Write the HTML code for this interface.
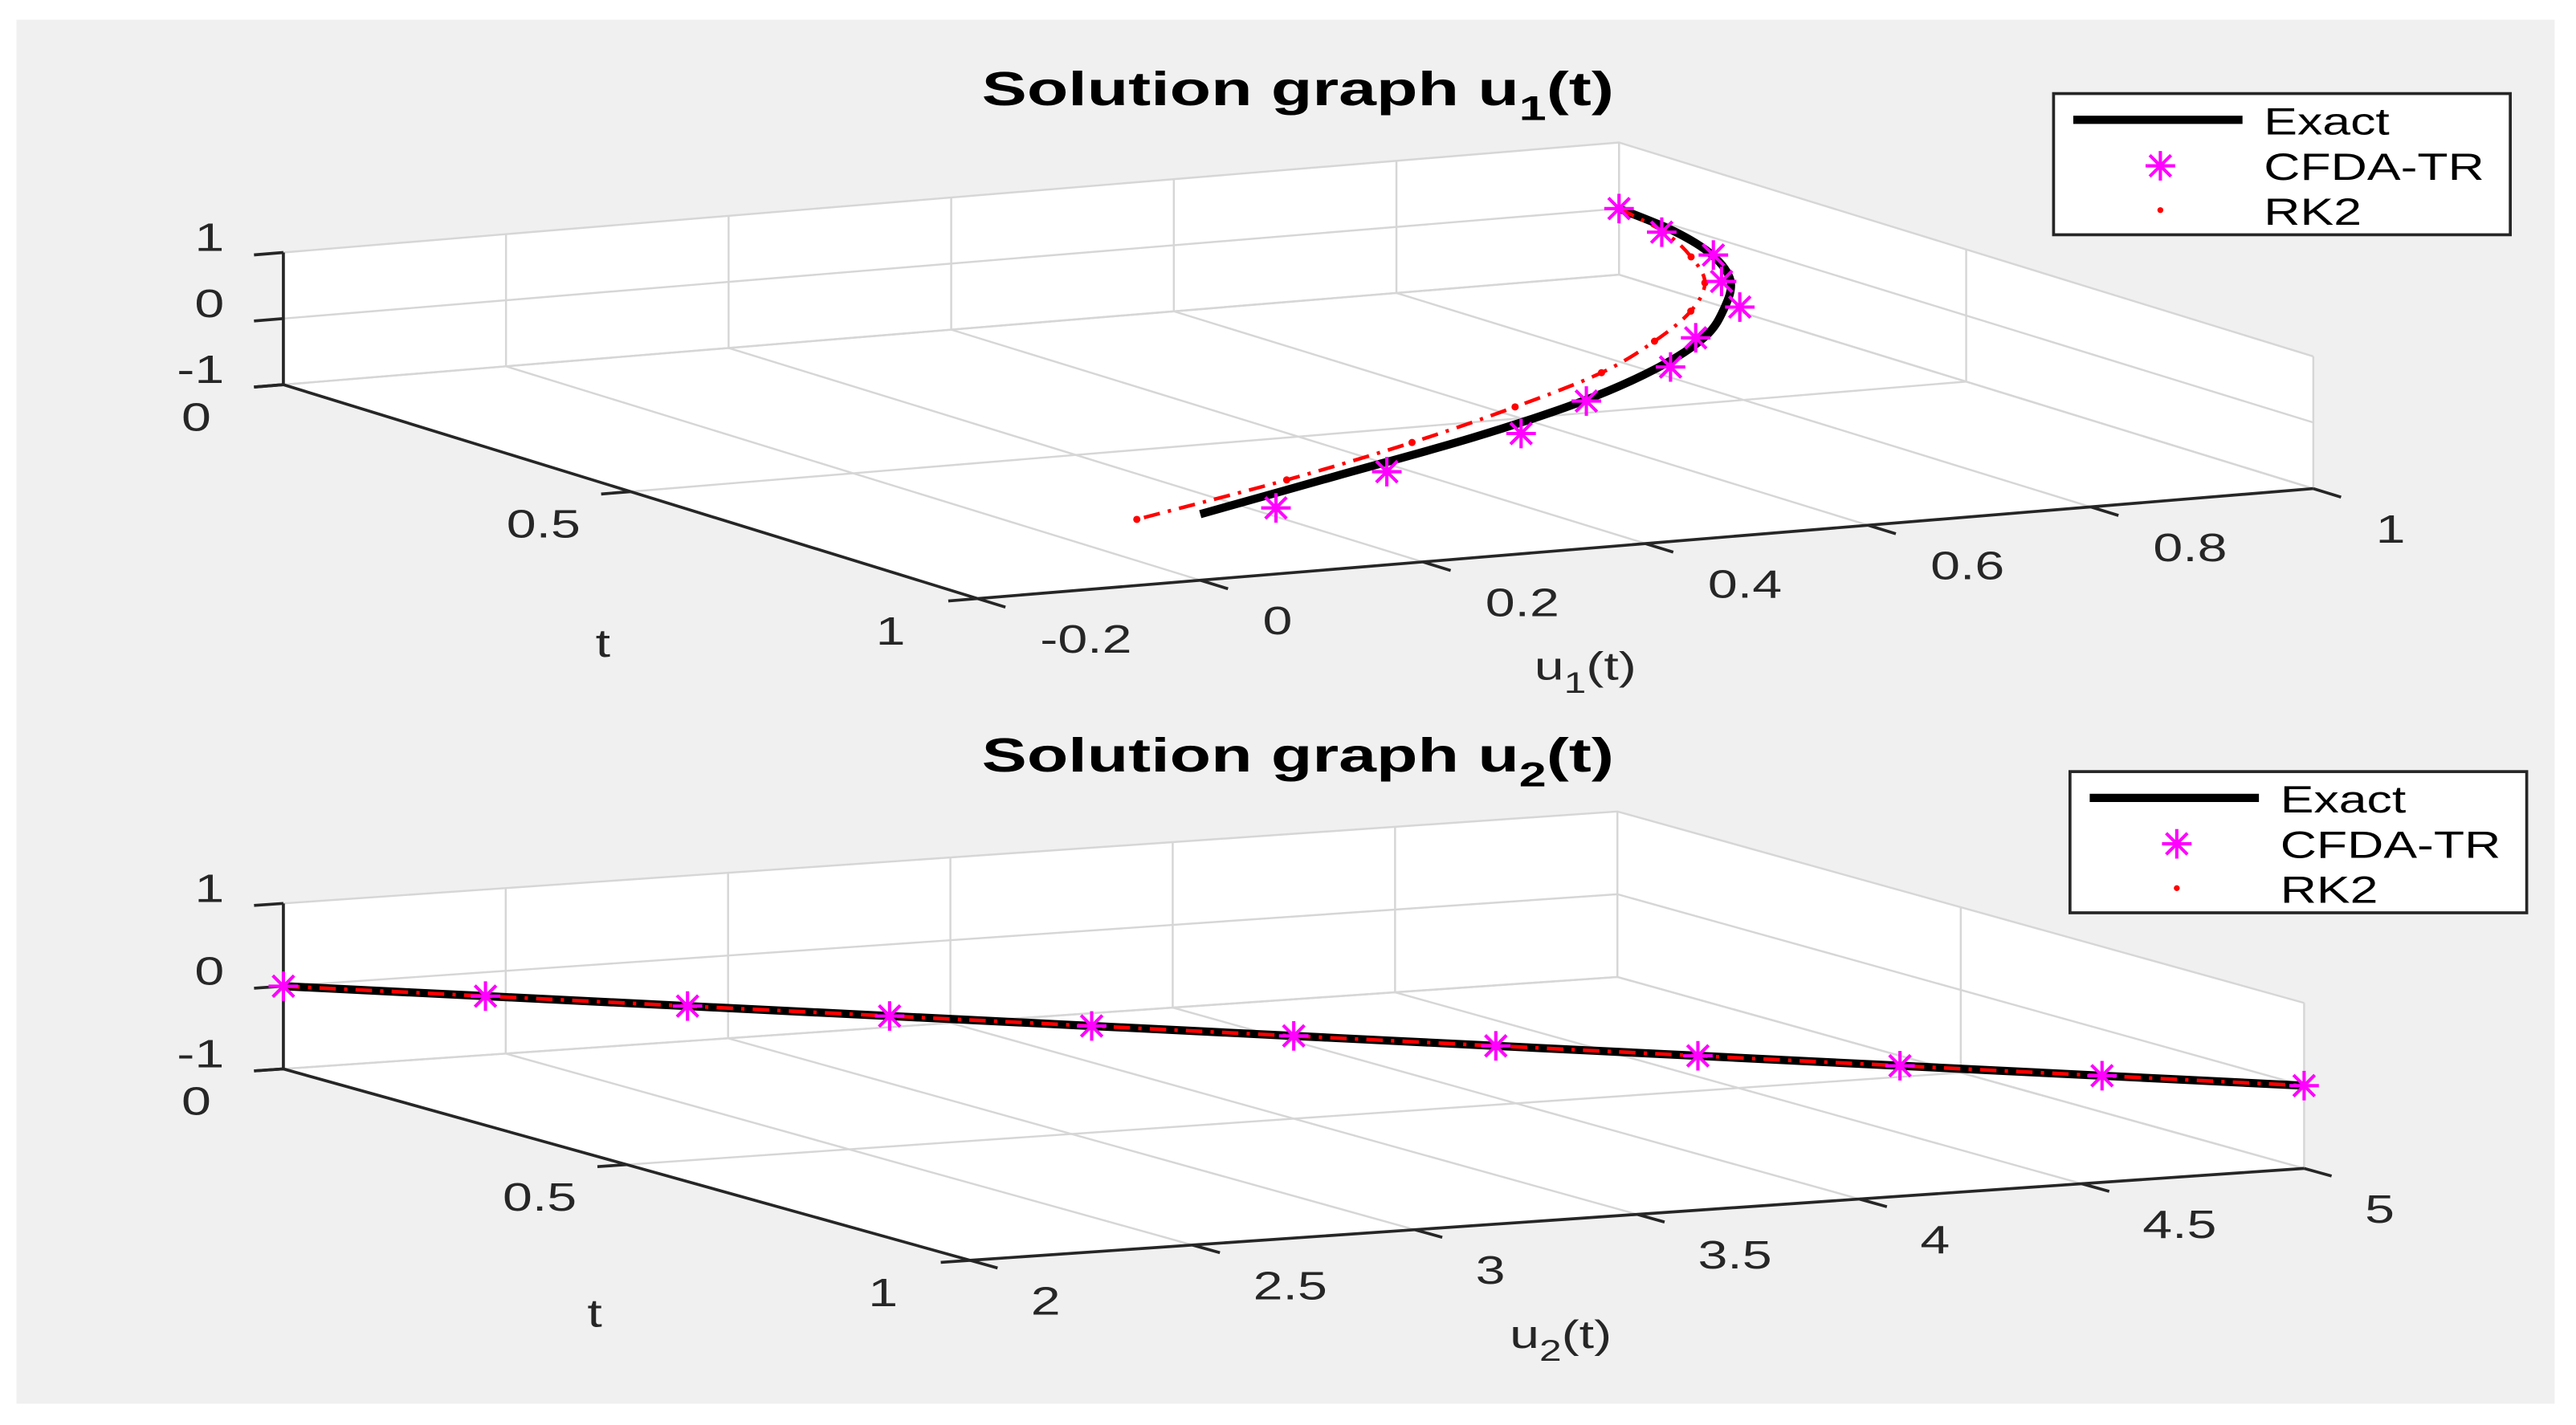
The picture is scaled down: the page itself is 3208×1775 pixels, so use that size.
<!DOCTYPE html>
<html><head><meta charset="utf-8"><title>Solution graphs</title>
<style>
html,body{margin:0;padding:0;background:#fff;}
svg{display:block;font-family:"Liberation Sans",Arial,sans-serif;}
</style></head>
<body>
<svg id="fig" width="3208" height="1775" viewBox="0 0 1568 868" preserveAspectRatio="none" xmlns="http://www.w3.org/2000/svg">
<rect x="10" y="12" width="1545" height="843" fill="#f0f0f0"/>
<g id="ax1"></g>
<g id="ax2"></g>
<text id="title1" x="790" y="64" text-anchor="middle" font-size="29" font-weight="bold" fill="#000">Solution graph u<tspan font-size="21" dy="9">1</tspan><tspan dy="-9">(t)</tspan></text>
<text id="title2" x="790" y="470" text-anchor="middle" font-size="29" font-weight="bold" fill="#000">Solution graph u<tspan font-size="21" dy="9">2</tspan><tspan dy="-9">(t)</tspan></text>
</svg>
<script>
const tVals=[0,0.1,0.2,0.3,0.4,0.5,0.6,0.7,0.8,0.9,1.0];
const u1Exact=[1.0,0.987,0.959,0.913,0.845,0.765,0.66,0.53,0.37,0.185,0.0];
const u1Cfda=[1.0,0.976,0.96,0.905,0.859,0.757,0.672,0.534,0.413,0.23,0.068];
const u1Rk2=[1.0,0.978,0.94,0.89,0.815,0.72,0.61,0.47,0.315,0.14,-0.057];
const u2Exact=[2.0,2.3,2.6,2.9,3.2,3.5,3.8,4.1,4.4,4.7,5.0];
const u2Cfda=[2.0,2.3,2.6,2.9,3.2,3.5,3.8,4.1,4.4,4.7,5.0];
const u2Rk2=[2.0,2.3,2.6,2.9,3.2,3.5,3.8,4.1,4.4,4.7,5.0];
const u1Ticks=[-0.2,0,0.2,0.4,0.6,0.8,1];
const u1TickLabels=["-0.2","0","0.2","0.4","0.6","0.8","1"];
const u2Ticks=[2,2.5,3,3.5,4,4.5,5];
const u2TickLabels=["2","2.5","3","3.5","4","4.5","5"];
const tTicks=[0,0.5,1];
const tTickLabels=["0","0.5","1"];
const zTicks=[-1,0,1];
const zTickLabels=["-1","0","1"];

const NS="http://www.w3.org/2000/svg";
const SX=1.35;
function mk(parent,tag,attrs){const e=document.createElementNS(NS,tag);for(const k in attrs)e.setAttribute(k,attrs[k]);parent.appendChild(e);return e;}
function stretch(e,sx){const x=parseFloat(e.getAttribute('x'));e.setAttribute('transform','translate('+x+',0) scale('+sx+',1) translate('+(-x)+',0)');}
function smooth(p){let d='M'+p[0][0].toFixed(2)+','+p[0][1].toFixed(2);
  for(let i=0;i<p.length-1;i++){const p0=p[Math.max(0,i-1)],p1=p[i],p2=p[i+1],p3=p[Math.min(p.length-1,i+2)];
    const c1=[p1[0]+(p2[0]-p0[0])/6,p1[1]+(p2[1]-p0[1])/6],c2=[p2[0]-(p3[0]-p1[0])/6,p2[1]-(p3[1]-p1[1])/6];
    d+=' C'+c1[0].toFixed(2)+','+c1[1].toFixed(2)+' '+c2[0].toFixed(2)+','+c2[1].toFixed(2)+' '+p2[0].toFixed(2)+','+p2[1].toFixed(2);}
  return d;}

function buildAxes(g,cfg,ex,cf,rk,uTicks,uLabels,sub,legY){
  const P=(u,t,z)=>{const a=(u-cfg.umin)/(cfg.umax-cfg.umin);
    return [cfg.ox+a*cfg.uvx+t*cfg.tvx, cfg.oy+a*cfg.uvy+t*cfg.tvy-(z+1)/2*cfg.zh];};
  const pts=a=>a.map(p=>p[0].toFixed(2)+","+p[1].toFixed(2)).join(" ");
  const U0=cfg.umin,U1=cfg.umax;
  let f=mk(g,'polygon',{points:pts([P(U0,0,-1),P(U1,0,-1),P(U1,0,1),P(U0,0,1)]),fill:'#fff',stroke:'none'});
  
  f=mk(g,'polygon',{points:pts([P(U1,0,-1),P(U1,1,-1),P(U1,1,1),P(U1,0,1)]),fill:'#fff',stroke:'none'});
  
  f=mk(g,'polygon',{points:pts([P(U0,0,-1),P(U1,0,-1),P(U1,1,-1),P(U0,1,-1)]),fill:'#fff',stroke:'none'});
  
  const grid=mk(g,'g',{stroke:'#d6d6d6','stroke-width':1.2,fill:'none'});
  
  uTicks.forEach(u=>{mk(grid,'polyline',{points:pts([P(u,1,-1),P(u,0,-1),P(u,0,1)])});});
  tTicks.forEach(t=>{mk(grid,'polyline',{points:pts([P(U0,t,-1),P(U1,t,-1),P(U1,t,1)])});});
  zTicks.forEach(z=>{mk(grid,'polyline',{points:pts([P(U0,0,z),P(U1,0,z),P(U1,1,z)])});});
  const ax=mk(g,'g',{stroke:'#262626','stroke-width':1.8,fill:'none'});
  
  mk(ax,'polyline',{points:pts([P(U0,0,1),P(U0,0,-1),P(U0,1,-1),P(U1,1,-1)])});
  const du=(U1-U0)*0.022;
  zTicks.forEach(z=>{mk(ax,'polyline',{points:pts([P(U0,0,z),P(U0-du,0,z)])});});
  tTicks.forEach(t=>{mk(ax,'polyline',{points:pts([P(U0,t,-1),P(U0-du,t,-1)])});});
  uTicks.forEach(u=>{mk(ax,'polyline',{points:pts([P(u,1,-1),P(u,1.04,-1)])});});
  const lab=mk(g,'g',{'font-size':24,fill:'#262626'});
  
  zTicks.forEach((z,i)=>{const p=P(U0,0,z);const e=mk(lab,'text',{x:p[0]-36,y:p[1]-1,'text-anchor':'end'});e.textContent=zTickLabels[i];stretch(e,SX);
    });
  tTicks.forEach((t,i)=>{const p=P(U0,t,-1);const e=mk(lab,'text',{x:p[0]-53,y:p[1]+28,'text-anchor':'middle'});e.textContent=tTickLabels[i];stretch(e,SX);
    });
  uTicks.forEach((u,i)=>{const p=P(u,1,-1);const e=mk(lab,'text',{x:p[0]+cfg.ulx,y:p[1]+33,'text-anchor':'start'});e.textContent=uLabels[i];stretch(e,SX);
    });
  let e=mk(lab,'text',{x:cfg.tTitle[0],y:cfg.tTitle[1],'text-anchor':'middle'});e.textContent='t';stretch(e,SX);
  
  e=mk(lab,'text',{x:cfg.uTitle[0],y:cfg.uTitle[1],'text-anchor':'middle'});
  
  e.innerHTML='u<tspan font-size="18" dy="8">'+sub+'</tspan><tspan dy="-8">(t)</tspan>';stretch(e,SX);
  const exP=tVals.map((t,i)=>P(ex[i],t,0));
  let s=mk(g,'path',{d:smooth(exP),stroke:'#000','stroke-width':5,fill:'none','stroke-linejoin':'round'});
  
  const rkP=tVals.map((t,i)=>P(rk[i],t,0));
  s=mk(g,'path',{d:smooth(rkP),stroke:'#ff0000','stroke-width':2.2,fill:'none','stroke-dasharray':'10,5,2,5'});
  
  rkP.forEach(p=>{const d=mk(g,'circle',{cx:p[0],cy:p[1],r:2.2,fill:'#ff0000'});
    });
  tVals.forEach((t,i)=>{const p=P(cf[i],t,0);star(g,p[0],p[1],9);});
  const L=mk(g,'g',{});
  
  const lx=cfg.legX;
  mk(L,'rect',{x:lx,y:legY,width:278,height:86,fill:'#fff',stroke:'#262626','stroke-width':1.8});
  mk(L,'line',{x1:lx+12,y1:legY+16,x2:lx+115,y2:legY+16,stroke:'#000','stroke-width':5});
  star(L,lx+65,legY+44,9);
  mk(L,'circle',{cx:lx+65,cy:legY+71,r:1.8,fill:'#ff0000'});
  const names=['Exact','CFDA-TR','RK2'];
  names.forEach((n,i)=>{const tx=mk(L,'text',{x:lx+128,y:legY+25+i*27.5,'font-size':23,fill:'#000'});tx.textContent=n;stretch(tx,1.33);
    });
}
function star(g,x,y,r){
  const s=mk(g,'g',{stroke:'#ff00ff','stroke-width':2});
  
  
  mk(s,'line',{x1:x,y1:y-r,x2:x,y2:y+r});
  mk(s,'line',{x1:x-r,y1:y,x2:x+r,y2:y});
  const q=r*0.72;
  mk(s,'line',{x1:x-q,y1:y-q,x2:x+q,y2:y+q});
  mk(s,'line',{x1:x-q,y1:y+q,x2:x+q,y2:y-q});
}
buildAxes(document.getElementById('ax1'),
  {ox:172.5,oy:234.3,uvx:813,uvy:-67,tvx:422.6,tvy:130.3,zh:80.5,umin:-0.2,umax:1,ulx:38,tTitle:[367,400],uTitle:[965,414],legX:1250},
  u1Exact,u1Cfda,u1Rk2,u1Ticks,u1TickLabels,'1',57);
buildAxes(document.getElementById('ax2'),
  {ox:172.5,oy:651.1,uvx:812,uvy:-56,tvx:418,tvy:116.6,zh:100.8,umin:2,umax:5,ulx:37,tTitle:[362,808],uTitle:[950,821],legX:1260},
  u2Exact,u2Cfda,u2Rk2,u2Ticks,u2TickLabels,'2',470);
stretch(document.getElementById('title1'),1.42);
stretch(document.getElementById('title2'),1.42);
</script>
</body></html>
